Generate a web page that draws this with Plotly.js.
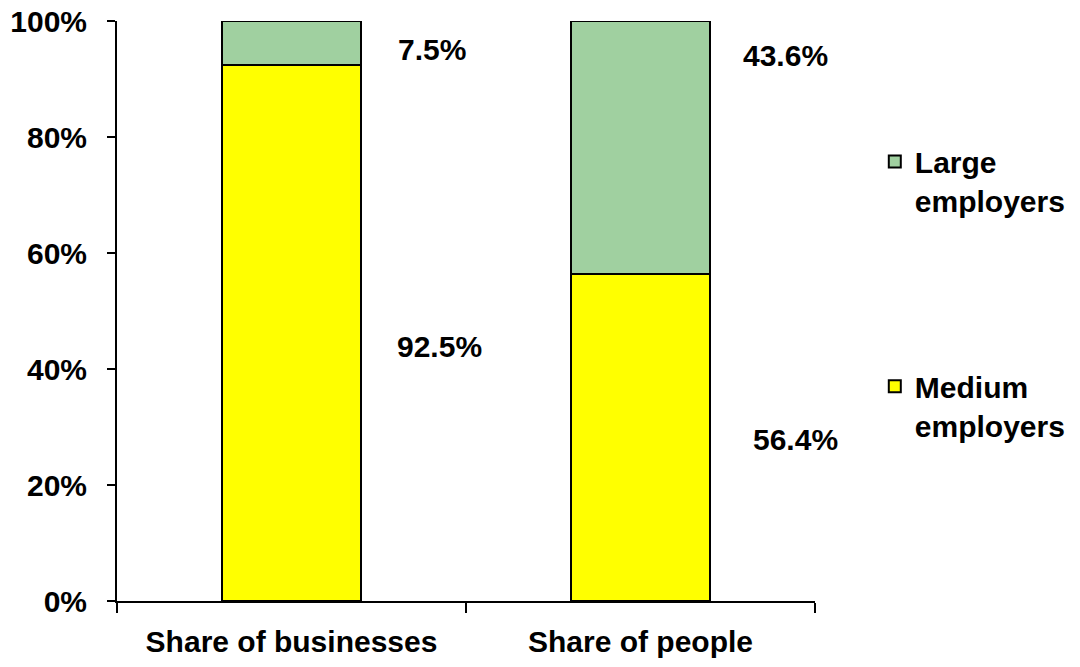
<!DOCTYPE html>
<html>
<head>
<meta charset="utf-8">
<script src="https://cdn.plot.ly/plotly-3.0.1.min.js"></script>
<style>html,body{margin:0;padding:0;background:#fff;}#chart{width:1080px;height:667px;}</style>
</head>
<body>
<div id="chart"></div>
<script>
const categories = ["Share of businesses", "Share of people"];
const mediumValues = [92.5, 56.4];
const largeValues = [7.5, 43.6];
const seriesNames = ["Medium<br>employers", "Large<br>employers"];
const yTickValues = [0, 20, 40, 60, 80, 100];
const yTickLabels = yTickValues.map(v => v + "%");

const FONT = "Liberation Sans, Arial, sans-serif";
const fs = 30;

const traces = [
  {
    type: "bar", x: categories, y: mediumValues, name: seriesNames[0],
    marker: {color: "#FFFF00", line: {color: "#000000", width: 2}},
    legend: "legend2", hoverinfo: "skip"
  },
  {
    type: "bar", x: categories, y: largeValues, name: seriesNames[1],
    marker: {color: "#A0D0A0", line: {color: "#000000", width: 2}},
    legend: "legend", hoverinfo: "skip"
  }
];

const annFont = {family: FONT, size: fs, color: "#000", weight: "bold"};
const annotations = [
  {x: categories[0], y: mediumValues[0] + largeValues[0] / 2, text: largeValues[0].toFixed(1) + "%", xshift: 140, yshift: -7},
  {x: categories[0], y: mediumValues[0] / 2, text: mediumValues[0].toFixed(1) + "%", xshift: 148, yshift: -14},
  {x: categories[1], y: mediumValues[1] + largeValues[1], text: largeValues[1].toFixed(1) + "%", xshift: 145, yshift: -34},
  {x: categories[1], y: mediumValues[1] / 2, text: mediumValues[1].toFixed(1) + "%", xshift: 155, yshift: -2}
].map(a => Object.assign({xref: "x", yref: "y", showarrow: false, font: annFont, xanchor: "center", yanchor: "middle"}, a));

const legendCommon = {
  font: {family: FONT, size: fs, color: "#000", weight: "bold"},
  xref: "container", yref: "container", xanchor: "left", yanchor: "top",
  valign: "top", bgcolor: "rgba(0,0,0,0)", itemclick: false
};

const layout = {
  width: 1080, height: 667,
  margin: {l: 117, r: 265, t: 21, b: 66, pad: 0},
  paper_bgcolor: "#fff", plot_bgcolor: "#fff",
  barmode: "stack", bargap: 0.6,
  font: {family: FONT, size: fs, color: "#000", weight: "bold"},
  showlegend: true,
  legend: Object.assign({x: 0.81, y: 0.797}, legendCommon),
  legend2: Object.assign({x: 0.81, y: 0.46}, legendCommon),
  xaxis: {
    type: "category", range: [-0.5, categories.length - 0.5], autorange: false,
    showgrid: false, zeroline: false,
    showline: true, linecolor: "#000", linewidth: 2,
    ticks: "outside", tickson: "boundaries", ticklen: 10, tickwidth: 2, tickcolor: "#000",
    tickfont: {family: FONT, size: fs, color: "#000", weight: "bold"},
    ticklabelstandoff: 13
  },
  yaxis: {
    range: [0, 100], autorange: false, tickmode: "array", tickvals: yTickValues, ticktext: yTickLabels,
    showgrid: false, zeroline: false,
    showline: true, linecolor: "#000", linewidth: 2,
    ticks: "outside", ticklen: 8, tickwidth: 2, tickcolor: "#000",
    tickfont: {family: FONT, size: fs, color: "#000", weight: "bold"},
    ticklabelstandoff: 14
  },
  annotations: annotations
};

Plotly.newPlot("chart", traces, layout, {staticPlot: true, displayModeBar: false});
</script>
</body>
</html>
